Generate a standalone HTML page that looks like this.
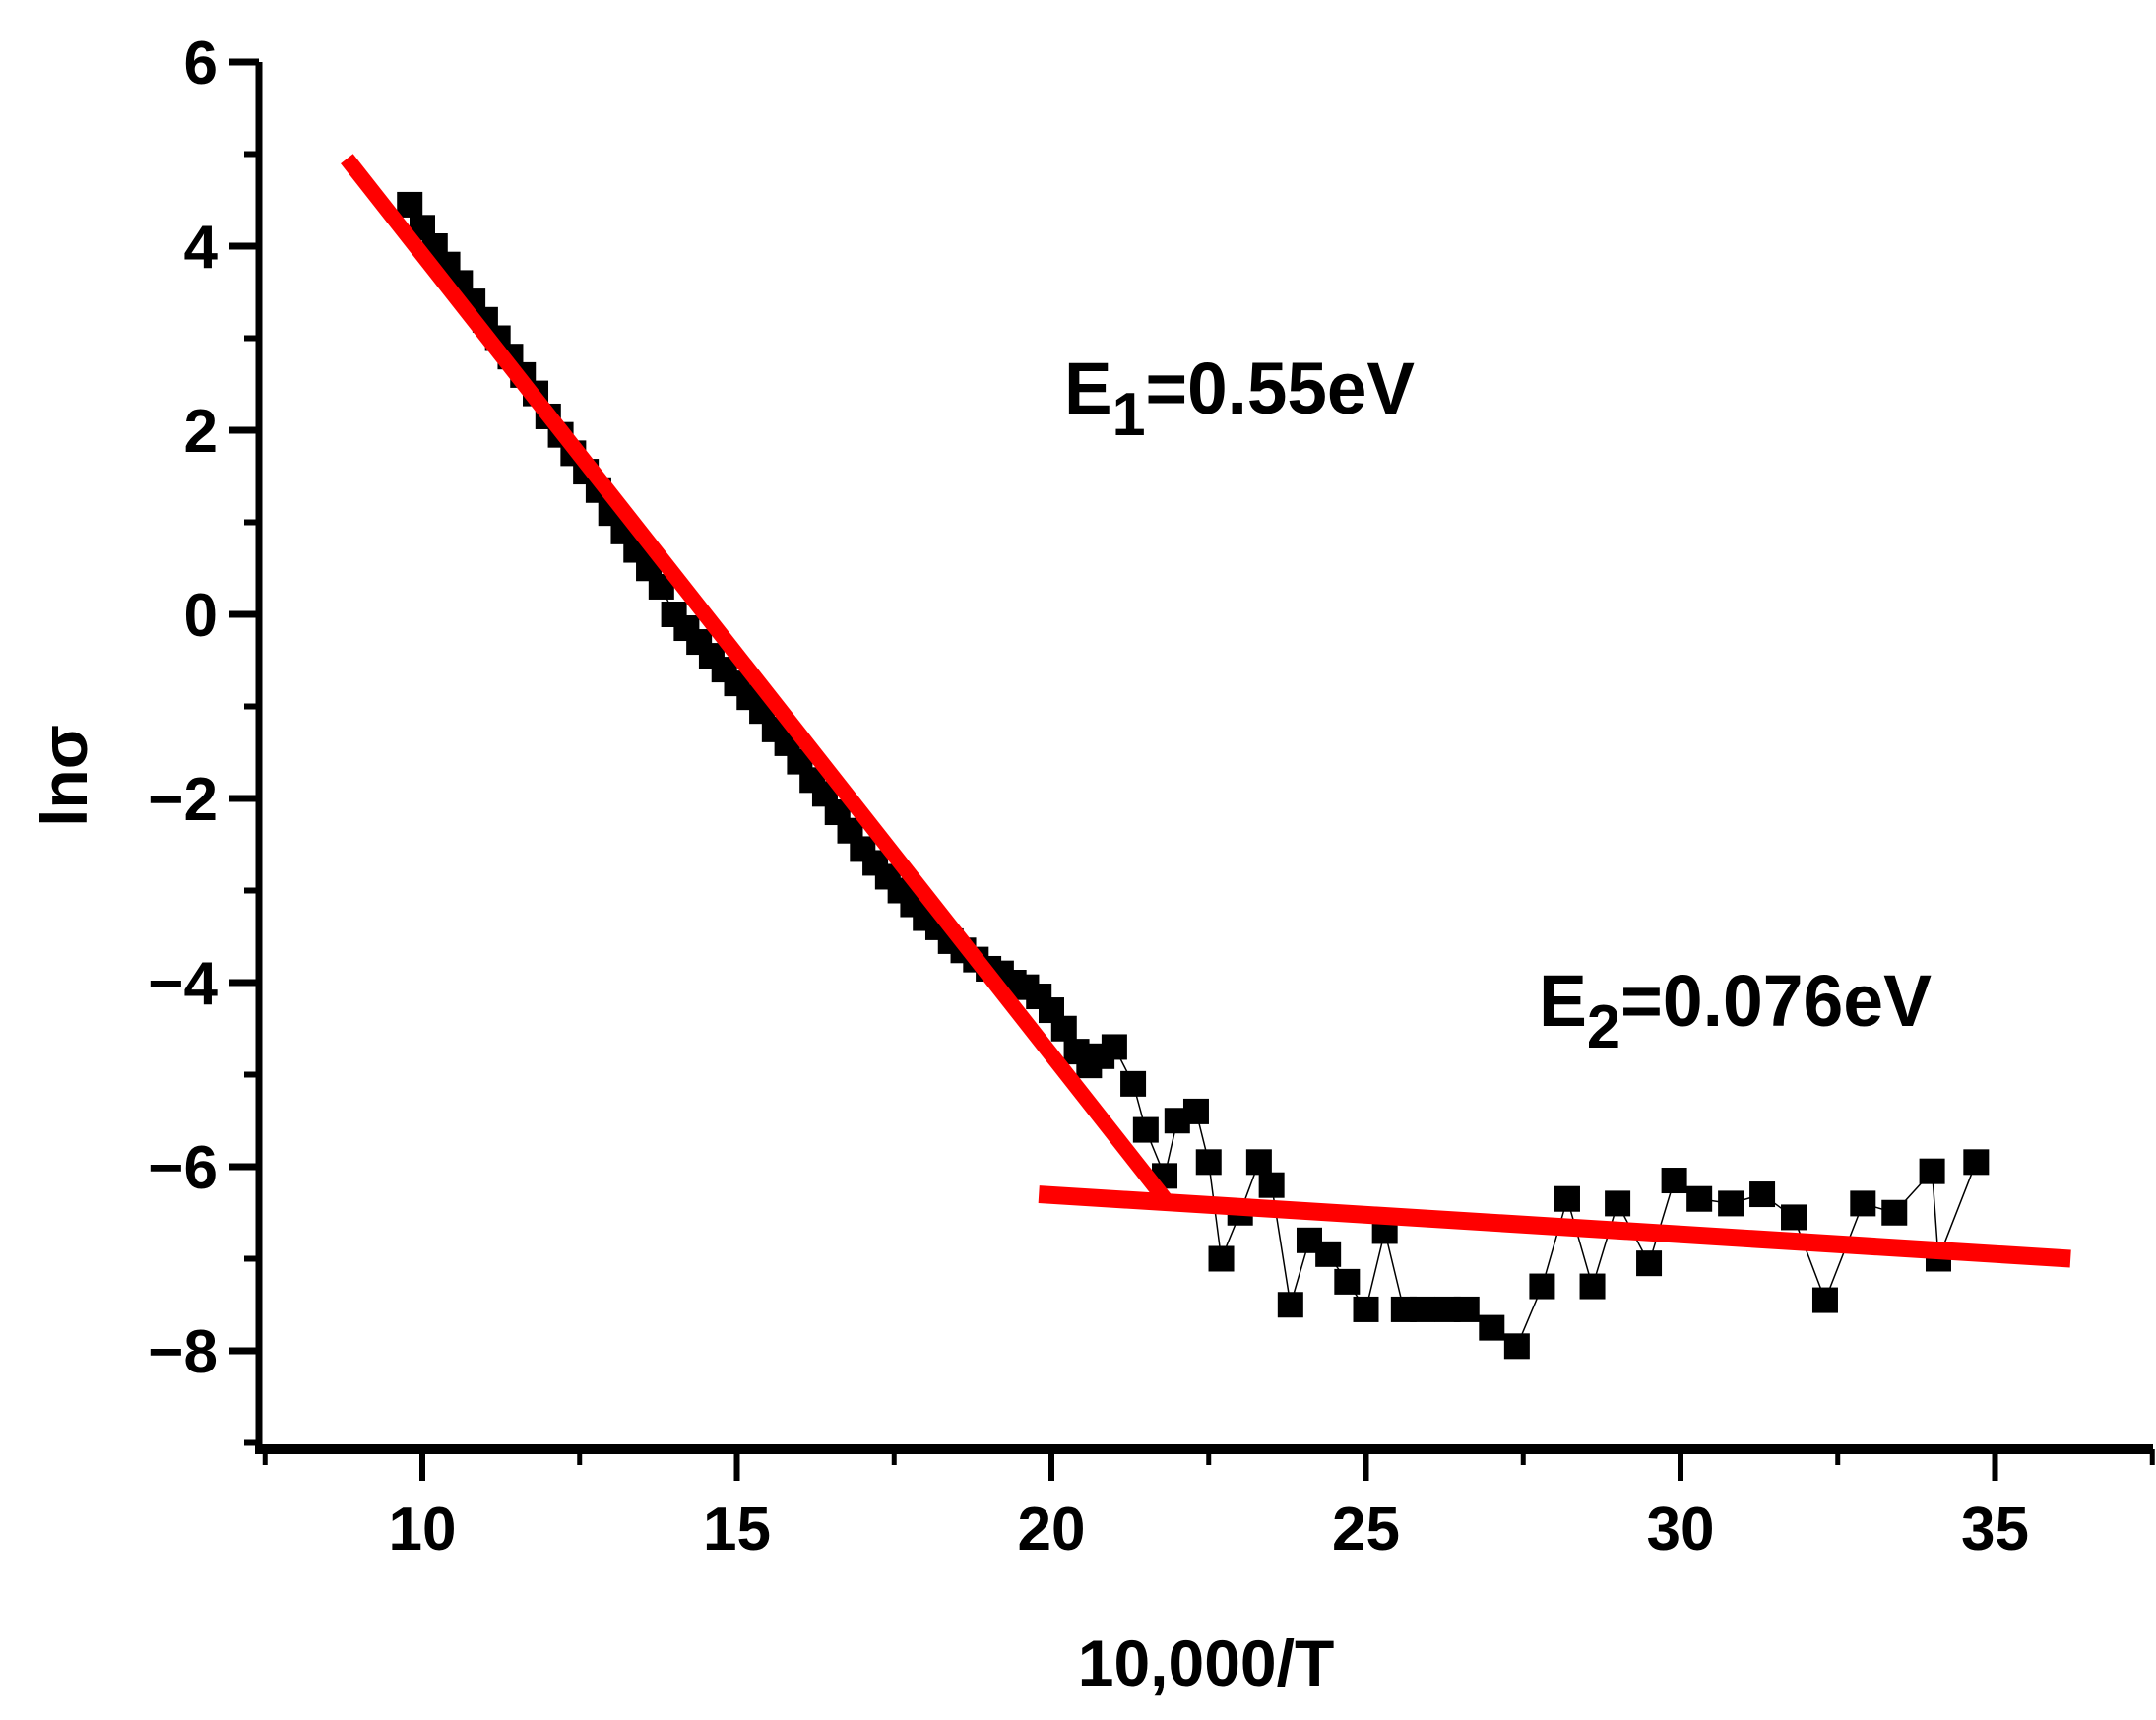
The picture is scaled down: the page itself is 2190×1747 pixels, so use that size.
<!DOCTYPE html>
<html><head><meta charset="utf-8"><style>
html,body{margin:0;padding:0;background:#fff;}
svg text{font-family:"Liberation Sans",Arial,sans-serif;font-weight:bold;fill:#000;}
</style></head><body>
<svg id="chart" width="2190" height="1742" viewBox="0 0 2190 1742" xmlns="http://www.w3.org/2000/svg">
<g id="axes"></g>
<g id="marks"></g>
<g id="fits"></g>
<text x="1081" y="420" font-size="74" textLength="356" lengthAdjust="spacingAndGlyphs">E<tspan font-size="62" dy="22">1</tspan><tspan dy="-22">=0.55eV</tspan></text>
<text x="1563" y="1042" font-size="74" textLength="399" lengthAdjust="spacingAndGlyphs">E<tspan font-size="62" dy="22">2</tspan><tspan dy="-22">=0.076eV</tspan></text>
<text x="1225" y="1712" font-size="66" text-anchor="middle">10,000/T</text>
<text transform="translate(88,788) rotate(-90)" font-size="66" text-anchor="middle">lnσ</text>
</svg>
<script>
const xTicks=[10,15,20,25,30,35];
const yTicks=[6,4,2,0,-2,-4,-6,-8];
const xData=[9.8,10.0,10.2,10.4,10.6,10.8,11.0,11.2,11.4,11.6,11.8,12.0,12.2,12.4,12.6,12.8,13.0,13.2,13.4,13.6,13.8,14.0,14.2,14.4,14.6,14.8,15.0,15.2,15.4,15.6,15.8,16.0,16.2,16.4,16.6,16.8,17.0,17.2,17.4,17.6,17.8,18.0,18.2,18.4,18.6,18.8,19.0,19.2,19.4,19.6,19.8,20.0,20.2,20.4,20.6,20.8,21.0,21.3,21.5,21.8,22.0,22.3,22.5,22.7,23.0,23.3,23.5,23.8,24.1,24.4,24.7,25.0,25.3,25.6,25.9,26.3,26.6,27.0,27.4,27.8,28.2,28.6,29.0,29.5,29.9,30.3,30.8,31.3,31.8,32.3,32.9,33.4,34.0,34.1,34.7];
const yData=[4.45,4.2,4.0,3.8,3.6,3.4,3.2,3.0,2.8,2.6,2.4,2.15,1.95,1.75,1.55,1.35,1.1,0.9,0.7,0.5,0.3,0.0,-0.15,-0.3,-0.45,-0.6,-0.75,-0.9,-1.05,-1.25,-1.4,-1.6,-1.8,-1.95,-2.15,-2.35,-2.55,-2.7,-2.85,-3.0,-3.15,-3.3,-3.4,-3.55,-3.65,-3.75,-3.85,-3.9,-4.0,-4.05,-4.15,-4.3,-4.5,-4.75,-4.9,-4.8,-4.7,-5.1,-5.6,-6.1,-5.5,-5.4,-5.95,-7.0,-6.5,-5.95,-6.2,-7.5,-6.8,-6.95,-7.25,-7.55,-6.7,-7.55,-7.55,-7.55,-7.55,-7.75,-7.95,-7.3,-6.35,-7.3,-6.4,-7.05,-6.15,-6.35,-6.4,-6.3,-6.55,-7.45,-6.4,-6.5,-6.05,-7.0,-5.95];
const fit1X=[8.8,21.8], fit1Y=[4.95,-6.35];
const fit2X=[19.8,36.2], fit2Y=[-6.3,-7.0];
const NS='http://www.w3.org/2000/svg';
const X=v=>429+63.9*(v-10);
const Y=v=>624-93.5*v;
function mk(tag,attrs,parent){const e=document.createElementNS(NS,tag);for(const k in attrs)e.setAttribute(k,attrs[k]);parent.appendChild(e);return e;}
const ax=document.getElementById('axes');
const x0=263,yb=1472,ytop=Y(6);
let l=mk('line',{x1:x0,y1:ytop,x2:x0,y2:yb,stroke:'#000','stroke-width':7},ax);


l=mk('line',{x1:x0-4,y1:yb,x2:2187,y2:yb,stroke:'#000','stroke-width':10},ax);


yTicks.forEach(v=>{
  let t=mk('line',{x1:x0-30,y1:Y(v),x2:x0,y2:Y(v),stroke:'#000','stroke-width':7},ax);
  
  
  let m=mk('line',{x1:x0-15,y1:Y(v-1),x2:x0,y2:Y(v-1),stroke:'#000','stroke-width':6},ax);
  
  
  let tx=mk('text',{x:x0-42,y:Y(v)+22,'font-size':62,'text-anchor':'end'},ax);
  tx.textContent=(v<0?'\u2212':'')+Math.abs(v);
  
  
});
xTicks.forEach(v=>{
  let t=mk('line',{x1:X(v),y1:yb,x2:X(v),y2:yb+32,stroke:'#000','stroke-width':6},ax);
  
  
  let tx=mk('text',{x:X(v),y:yb+102,'font-size':62,'text-anchor':'middle'},ax);
  tx.textContent=v;
  
  
});
[7.5,12.5,17.5,22.5,27.5,32.5,37.5].forEach(v=>{
  let m=mk('line',{x1:X(v),y1:yb,x2:X(v),y2:yb+16,stroke:'#000','stroke-width':5},ax);
  
  
});
const mg=document.getElementById('marks');
let pts=xData.map((v,i)=>X(v)+','+Y(yData[i])).join(' ');
let pl=mk('polyline',{points:pts,fill:'none',stroke:'#000','stroke-width':1.5},mg);


xData.forEach((v,i)=>{
  let r=mk('rect',{x:X(v)-13,y:Y(yData[i])-13,width:26,height:26,fill:'#000'},mg);
  
  
});
const fg=document.getElementById('fits');
let f1=mk('line',{x1:X(fit1X[0]),y1:Y(fit1Y[0]),x2:X(fit1X[1]),y2:Y(fit1Y[1]),stroke:'#ff0000','stroke-width':16},fg);


let f2=mk('line',{x1:X(fit2X[0]),y1:Y(fit2Y[0]),x2:X(fit2X[1]),y2:Y(fit2Y[1]),stroke:'#ff0000','stroke-width':18},fg);


</script>
</body></html>
